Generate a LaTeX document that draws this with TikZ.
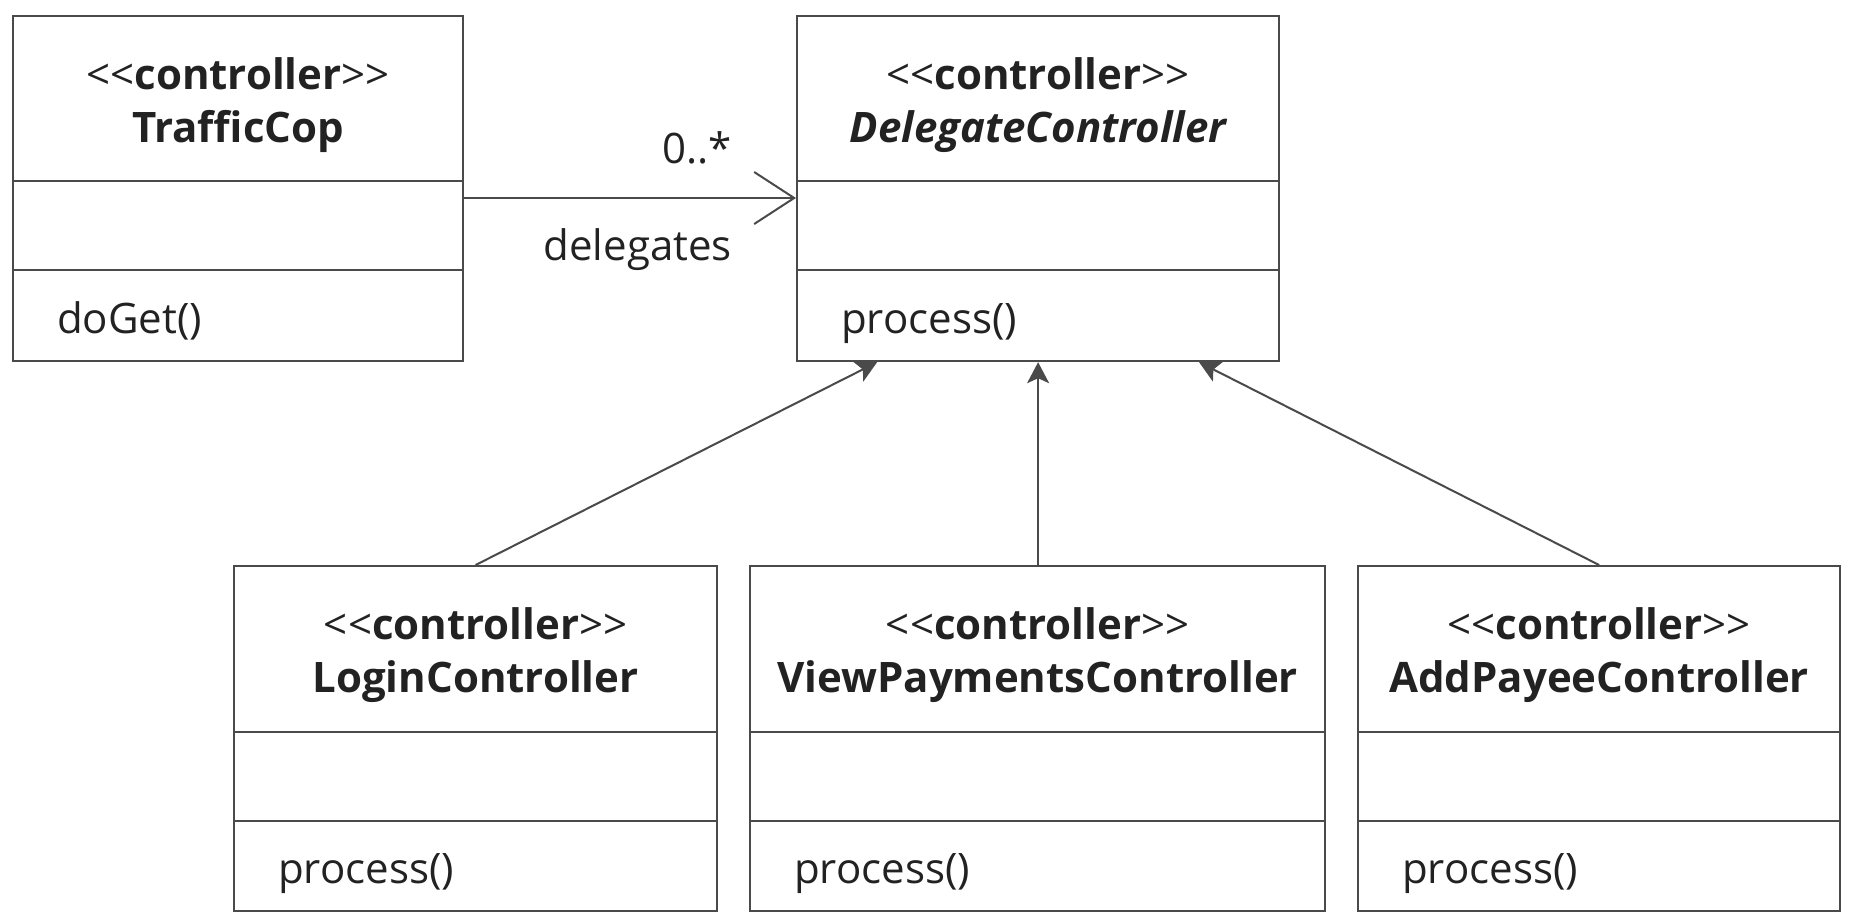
\documentclass[tikz,border=0pt]{standalone}
\usepackage{fontspec}
\setmainfont{Open Sans}
\usetikzlibrary{arrows.meta}
\definecolor{ink}{HTML}{222222}
\definecolor{edge}{HTML}{4A4A4A}
\newcommand{\stereo}[1]{<\kern0pt<\textbf{#1}>\kern0pt>}
\begin{document}
\begin{tikzpicture}[x=1pt,y=-1pt,
  cls/.style={draw=edge, line width=2.2pt, anchor=north west, inner sep=0pt},
  ln/.style={draw=edge, line width=2.2pt},
  txt/.style={anchor=base, inner sep=0pt, text=ink, font=\fontsize{42}{50}\selectfont},
  optxt/.style={anchor=base west, inner sep=0pt, text=ink, font=\fontsize{42}{50}\selectfont},
  lbl/.style={anchor=base east, inner sep=0pt, text=ink, font=\fontsize{42}{50}\selectfont},
  gen/.style={draw=edge, line width=2pt, -{Stealth[length=21pt,width=22pt,inset=5pt]}},
  assoc/.style={draw=edge, line width=2.2pt, -{Straight Barb[length=40pt,width=52pt,line width=2pt]}}
]
\useasboundingbox (0,0) rectangle (1857,919);

% TrafficCop
\node[cls, minimum width=450pt, minimum height=345pt] (tc) at (12,15) {};
\draw[ln] ([yshift=-166pt]tc.north west) -- ([yshift=-166pt]tc.north east);
\draw[ln] ([yshift=-255pt]tc.north west) -- ([yshift=-255pt]tc.north east);
\node[txt] (tcs) at ([yshift=-74pt]tc.north) {\stereo{controller}};
\node[txt] (tcn) at ([yshift=-127pt]tc.north) {\bfseries TrafficCop};
\node[optxt] (tco) at ([xshift=45pt,yshift=-318pt]tc.north west) {doGet()};

% DelegateController
\node[cls, minimum width=482pt, minimum height=345pt] (dc) at (796,15) {};
\draw[ln] ([yshift=-166pt]dc.north west) -- ([yshift=-166pt]dc.north east);
\draw[ln] ([yshift=-255pt]dc.north west) -- ([yshift=-255pt]dc.north east);
\node[txt] (dcs) at ([yshift=-74pt]dc.north) {\stereo{controller}};
\node[txt] (dcn) at ([yshift=-127pt]dc.north) {\bfseries\itshape DelegateController};
\node[optxt] (dco) at ([xshift=45pt,yshift=-318pt]dc.north west) {process()};

% LoginController
\node[cls, minimum width=483pt, minimum height=345pt] (lc) at (233,565) {};
\draw[ln] ([yshift=-167pt]lc.north west) -- ([yshift=-167pt]lc.north east);
\draw[ln] ([yshift=-256pt]lc.north west) -- ([yshift=-256pt]lc.north east);
\node[txt] (lcs) at ([yshift=-74pt]lc.north) {\stereo{controller}};
\node[txt] (lcn) at ([yshift=-127pt]lc.north) {\bfseries LoginController};
\node[optxt] (lco) at ([xshift=45pt,yshift=-318pt]lc.north west) {process()};

% ViewPaymentsController
\node[cls, minimum width=575pt, minimum height=345pt] (vc) at (749,565) {};
\draw[ln] ([yshift=-167pt]vc.north west) -- ([yshift=-167pt]vc.north east);
\draw[ln] ([yshift=-256pt]vc.north west) -- ([yshift=-256pt]vc.north east);
\node[txt] (vcs) at ([yshift=-74pt]vc.north) {\stereo{controller}};
\node[txt] (vcn) at ([yshift=-127pt]vc.north) {\bfseries ViewPaymentsController};
\node[optxt] (vco) at ([xshift=45pt,yshift=-318pt]vc.north west) {process()};

% AddPayeeController
\node[cls, minimum width=482pt, minimum height=345pt] (ac) at (1357,565) {};
\draw[ln] ([yshift=-167pt]ac.north west) -- ([yshift=-167pt]ac.north east);
\draw[ln] ([yshift=-256pt]ac.north west) -- ([yshift=-256pt]ac.north east);
\node[txt] (acs) at ([yshift=-74pt]ac.north) {\stereo{controller}};
\node[txt] (acn) at ([yshift=-127pt]ac.north) {\bfseries AddPayeeController};
\node[optxt] (aco) at ([xshift=45pt,yshift=-318pt]ac.north west) {process()};

% association
\coordinate (ay) at (0,198);
\draw[assoc] (tc.east |- ay) -- (dc.west |- ay);
\node[lbl] (mult) at (732,163) {0..*};
\node[lbl] (role) at (732,260) {delegates};

% generalizations
\draw[gen] (lc.north) -- ([xshift=-161pt]dc.south);
\draw[gen] (vc.north -| dc.south) -- (dc.south);
\draw[gen] (ac.north) -- ([xshift=161pt]dc.south);
\end{tikzpicture}
\end{document}
